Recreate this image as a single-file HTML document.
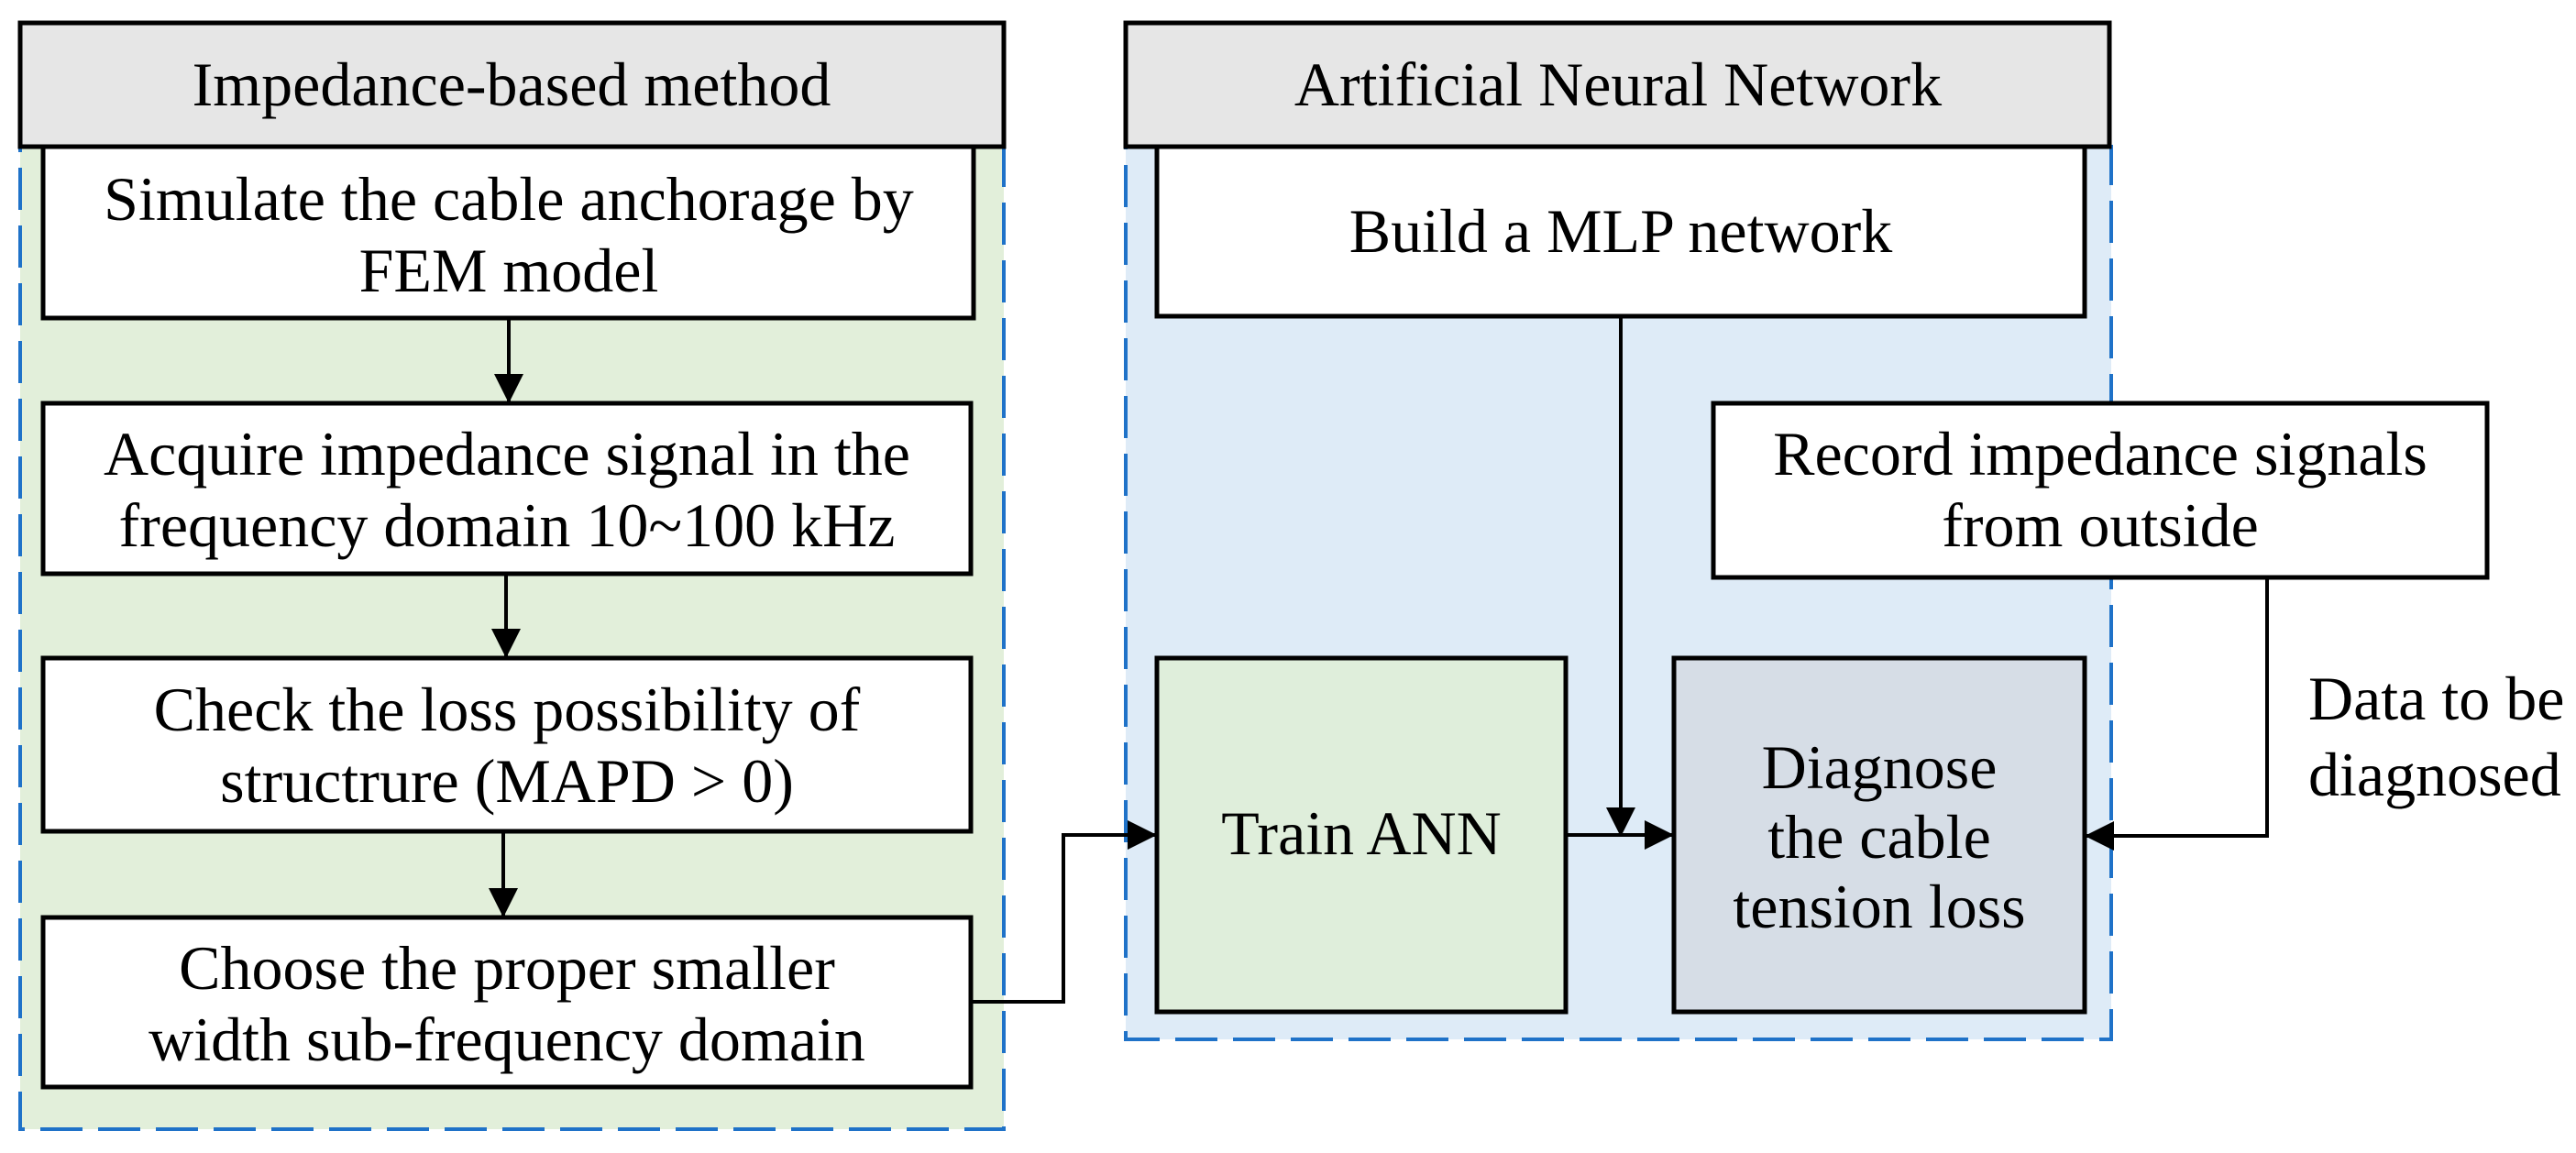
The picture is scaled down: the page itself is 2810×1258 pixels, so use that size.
<!DOCTYPE html>
<html><head><style>html,body{margin:0;padding:0;background:#fff}svg{display:block}</style></head>
<body>
<svg width="2810" height="1258" viewBox="0 0 2810 1258" xmlns="http://www.w3.org/2000/svg" font-family="Liberation Serif, serif" font-size="68" text-anchor="middle" fill="#000">
<defs>
<marker id="b" markerWidth="32" markerHeight="32" refX="30" refY="16" orient="auto" markerUnits="userSpaceOnUse" viewBox="0 0 32 32"><path d="M0,0 L32,16 L0,32 z" fill="#000"/></marker>
</defs>
<!-- left panel -->
<rect x="22" y="160" width="1073" height="1072" fill="#e2efda" stroke="#1f72c8" stroke-width="4" stroke-dasharray="46 17"/>
<rect x="22" y="25" width="1073" height="135" fill="#e6e6e6" stroke="#000" stroke-width="5"/>
<text x="558" y="115">Impedance-based method</text>
<rect x="47" y="160" width="1015" height="187" fill="#fff" stroke="#000" stroke-width="5"/>
<text x="555" y="240">Simulate the cable anchorage by</text>
<text x="555" y="318">FEM model</text>
<rect x="47" y="440" width="1012" height="186" fill="#fff" stroke="#000" stroke-width="5"/>
<text x="553" y="518">Acquire impedance signal in the</text>
<text x="553" y="596">frequency domain 10~100 kHz</text>
<rect x="47" y="718" width="1012" height="189" fill="#fff" stroke="#000" stroke-width="5"/>
<text x="553" y="797">Check the loss possibility of</text>
<text x="553" y="875">structrure (MAPD &gt; 0)</text>
<rect x="47" y="1001" width="1012" height="185" fill="#fff" stroke="#000" stroke-width="5"/>
<text x="553" y="1079">Choose the proper smaller</text>
<text x="553" y="1157">width sub-frequency domain</text>
<g stroke="#000" stroke-width="4" fill="none">
<line x1="555" y1="347" x2="555" y2="438" marker-end="url(#b)"/>
<line x1="552" y1="626" x2="552" y2="716" marker-end="url(#b)"/>
<line x1="549" y1="907" x2="549" y2="999" marker-end="url(#b)"/>
</g>
<!-- right panel -->
<rect x="1228" y="160" width="1075" height="974" fill="#deebf7" stroke="#1f72c8" stroke-width="4" stroke-dasharray="46 17"/>
<rect x="1228" y="25" width="1073" height="135" fill="#e6e6e6" stroke="#000" stroke-width="5"/>
<text x="1765" y="115">Artificial Neural Network</text>
<rect x="1262" y="160" width="1012" height="185" fill="#fff" stroke="#000" stroke-width="5"/>
<text x="1768" y="275">Build a MLP network</text>
<rect x="1869" y="440" width="844" height="190" fill="#fff" stroke="#000" stroke-width="5"/>
<text x="2291" y="518">Record impedance signals</text>
<text x="2291" y="596">from outside</text>
<rect x="1262" y="718" width="446" height="386" fill="#dfeedb" stroke="#000" stroke-width="5"/>
<text x="1485" y="932">Train ANN</text>
<rect x="1826" y="718" width="448" height="386" fill="#d6dde6" stroke="#000" stroke-width="5"/>
<text x="2050" y="860">Diagnose</text>
<text x="2050" y="936">the cable</text>
<text x="2050" y="1012">tension loss</text>
<text x="2518" y="785" text-anchor="start">Data to be</text>
<text x="2518" y="868" text-anchor="start">diagnosed</text>
<g stroke="#000" stroke-width="4" fill="none">
<polyline points="1059,1093 1160,1093 1160,911 1260,911" marker-end="url(#b)"/>
<line x1="1768" y1="345" x2="1768" y2="911" marker-end="url(#b)"/>
<line x1="1708" y1="911" x2="1824" y2="911" marker-end="url(#b)"/>
<polyline points="2473,630 2473,912 2276,912" marker-end="url(#b)"/>
</g>
</svg>
</body></html>
